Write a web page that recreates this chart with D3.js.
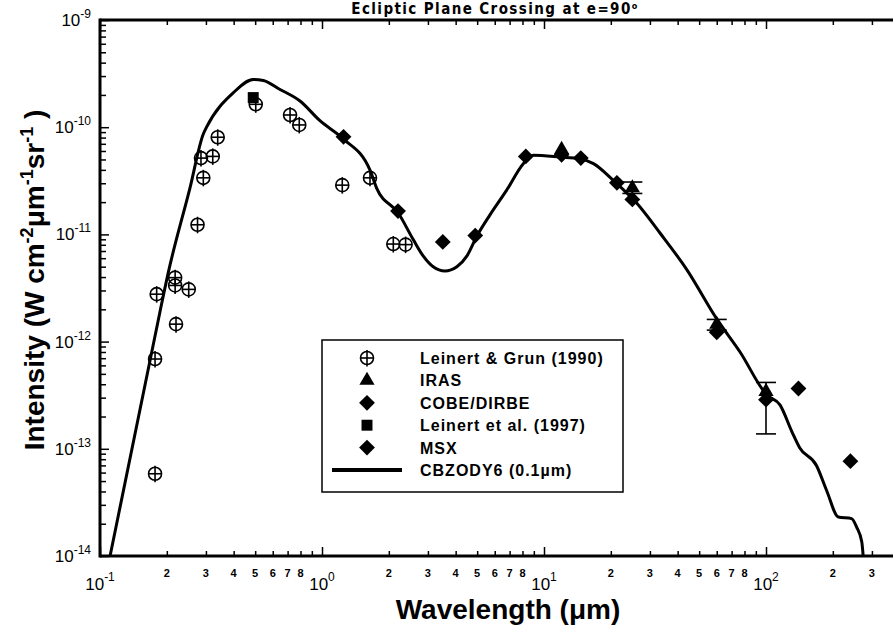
<!DOCTYPE html>
<html lang="en">
  <head>
    <meta charset="utf-8" />
    <title>Ecliptic Plane Crossing at e=90</title>
    <script src="https://cdnjs.cloudflare.com/ajax/libs/d3/7.8.5/d3.min.js"></script>
    <style type="text/css">
      body {
        margin: 0;
        background: #fff;
      }
      svg {
        display: block;
        font-family: "Liberation Sans", Arial, Helvetica, sans-serif;
      }
      .axis .domain {
        display: none;
      }
      .axis line {
        stroke: #000;
        stroke-width: 1.5;
      }
      .frame {
        stroke: #000;
        stroke-width: 3;
      }
      .model {
        fill: none;
        stroke: #000;
        stroke-width: 3;
        stroke-linejoin: round;
      }
      .title {
        font-family: "Liberation Sans Narrow", "DejaVu Sans Condensed", sans-serif;
        font-weight: bold;
        font-size: 15px;
        letter-spacing: 1.4px;
      }
      .axisTitle {
        font-weight: bold;
        font-size: 28px;
      }
      .legendText {
        font-weight: bold;
        font-size: 16px;
        letter-spacing: 1px;
      }
    </style>
  </head>

  <body>
    <div id="chart"></div>

    <script>
      // Leinert & Grun (1990)
      const leinertGrunWl = [0.177, 0.177, 0.180, 0.218, 0.218, 0.220, 0.251, 0.275, 0.285, 0.292, 0.322, 0.339, 0.503, 0.718, 0.790, 1.234, 1.645, 2.095, 2.38];
      const leinertGrunI = [5.85e-14, 6.88e-13, 2.77e-12, 3.95e-12, 3.34e-12, 1.455e-12, 3.07e-12, 1.23e-11, 5.15e-11, 3.37e-11, 5.34e-11, 8.06e-11, 1.635e-10, 1.30e-10, 1.05e-10, 2.88e-11, 3.37e-11, 8.13e-12, 8.03e-12];

      // IRAS (with error bars)
      const irasWl = [12, 25, 60, 100];
      const irasI = [6.18e-11, 2.71e-11, 1.446e-12, 3.42e-13];
      const irasLo = [null, 2.41e-11, 1.28e-12, 1.377e-13];
      const irasHi = [null, 3.08e-11, 1.61e-12, 4.16e-13];

      // COBE/DIRBE
      const dirbeWl = [1.25, 2.2, 3.5, 4.9, 12, 25, 60, 100, 140, 240];
      const dirbeI = [8.13e-11, 1.65e-11, 8.51e-12, 9.76e-12, 5.52e-11, 2.12e-11, 1.223e-12, 2.87e-13, 3.65e-13, 7.67e-14];

      // Leinert et al. (1997)
      const leinert97Wl = [0.49];
      const leinert97I = [1.89e-10];

      // MSX
      const msxWl = [8.28, 14.65, 21.3];
      const msxI = [5.34e-11, 5.15e-11, 3.03e-11];

      // CBZODY6 model (0.1um)
      const modelWl = [0.111, 0.186, 0.203, 0.254, 0.292, 0.302, 0.399, 0.490, 0.544, 0.647, 0.796, 0.979, 1.247, 1.645, 1.764, 2.21, 2.58, 2.86, 3.17, 3.58, 4.05, 4.49, 4.98, 5.71, 6.79, 8.07, 8.95, 11.8, 14.5, 16.7, 20.5, 26.2, 33.3, 43.9, 60, 76.4, 100.7, 115.6, 130.6, 142, 169, 187.5, 211.8, 243, 256, 270, 274];
      const modelI = [1.0e-14, 1.87e-12, 4.40e-12, 2.69e-11, 8.64e-11, 1.0e-10, 2.10e-10, 2.79e-10, 2.73e-10, 2.25e-10, 1.755e-10, 1.15e-10, 7.78e-11, 3.97e-11, 2.69e-11, 1.575e-11, 8.9e-12, 6.27e-12, 4.99e-12, 4.56e-12, 4.99e-12, 6.27e-12, 9.6e-12, 1.52e-11, 2.59e-11, 4.57e-11, 5.46e-11, 5.27e-11, 5.08e-11, 4.57e-11, 3.2e-11, 1.95e-11, 1.03e-11, 4.72e-12, 1.627e-12, 8.0e-13, 3.19e-13, 2.57e-13, 1.457e-13, 1.02e-13, 6.95e-14, 4.08e-14, 2.31e-14, 2.23e-14, 1.86e-14, 1.356e-14, 1.0e-14];

      const legendLabels = ["Leinert & Grun (1990)", "IRAS", "COBE/DIRBE", "Leinert et al. (1997)", "MSX", "CBZODY6 (0.1\u00b5m)"];
      const legendMarks = ["circlePlus", "triangle", "diamond", "square", "diamond", "line"];

      const width = 893;
      const height = 631;
      const marginLeft = 100;
      const marginTop = 20;
      const plotBottom = 556;
      const decadeW = 222;

      const x = d3.scaleLog()
        .domain([0.1, 400])
        .range([marginLeft, marginLeft + decadeW * Math.log10(4000)]);

      const y = d3.scaleLog()
        .domain([1e-14, 1e-9])
        .range([plotBottom, marginTop]);

      const svg = d3.select("#chart")
        .append("svg")
        .attr("width", width)
        .attr("height", height)
        .attr("viewBox", [0, 0, width, height]);

      svg.append("defs").append("clipPath")
        .attr("id", "plotClip")
        .append("rect")
        .attr("x", marginLeft)
        .attr("y", marginTop)
        .attr("width", width - marginLeft)
        .attr("height", plotBottom - marginTop);

      const isDecade = v => Math.abs(Math.log10(v) - Math.round(Math.log10(v))) < 1e-6;
      const lead = v => Math.round(v / Math.pow(10, Math.floor(Math.log10(v) + 1e-9)));

      const xTicks = x.ticks();
      const xMajor = xTicks.filter(isDecade);
      const xMinor = xTicks.filter(v => !isDecade(v));
      const yTicks = y.ticks();
      const yMajor = yTicks.filter(isDecade);
      const yMinor = yTicks.filter(v => !isDecade(v));

      // bottom axis, ticks pointing inward
      svg.append("g")
        .attr("class", "axis")
        .attr("transform", `translate(0,${plotBottom})`)
        .call(d3.axisBottom(x).tickValues(xMinor).tickSize(-5).tickSizeOuter(0).tickFormat(""));
      svg.append("g")
        .attr("class", "axis")
        .attr("transform", `translate(0,${plotBottom})`)
        .call(d3.axisBottom(x).tickValues(xMajor).tickSize(-9).tickSizeOuter(0).tickFormat(""));

      // top axis
      svg.append("g")
        .attr("class", "axis")
        .attr("transform", `translate(0,${marginTop})`)
        .call(d3.axisTop(x).tickValues(xMinor).tickSize(-5).tickSizeOuter(0).tickFormat(""));
      svg.append("g")
        .attr("class", "axis")
        .attr("transform", `translate(0,${marginTop})`)
        .call(d3.axisTop(x).tickValues(xMajor).tickSize(-9).tickSizeOuter(0).tickFormat(""));

      // left axis
      svg.append("g")
        .attr("class", "axis")
        .attr("transform", `translate(${marginLeft},0)`)
        .call(d3.axisLeft(y).tickValues(yMinor).tickSize(-6).tickSizeOuter(0).tickFormat(""));
      svg.append("g")
        .attr("class", "axis")
        .attr("transform", `translate(${marginLeft},0)`)
        .call(d3.axisLeft(y).tickValues(yMajor).tickSize(-9).tickSizeOuter(0).tickFormat(""));

      // frame lines
      svg.append("line").attr("class", "frame")
        .attr("x1", marginLeft).attr("x2", width)
        .attr("y1", plotBottom).attr("y2", plotBottom);
      svg.append("line").attr("class", "frame")
        .attr("x1", marginLeft).attr("x2", width)
        .attr("y1", marginTop).attr("y2", marginTop);
      svg.append("line").attr("class", "frame")
        .attr("x1", marginLeft).attr("x2", marginLeft)
        .attr("y1", marginTop - 1.5).attr("y2", plotBottom + 1.5);

      // x tick labels
      svg.append("g")
        .selectAll("text")
        .data(xMinor.filter(v => lead(v) <= 8 && x(v) < width - 5))
        .join("text")
        .attr("x", d => x(d))
        .attr("y", 577)
        .attr("text-anchor", "middle")
        .attr("font-size", 11)
        .attr("font-weight", "bold")
        .text(d => lead(d));

      const xMajLab = svg.append("g")
        .selectAll("text")
        .data(xMajor.filter(v => x(v) < width))
        .join("text")
        .attr("x", d => x(d))
        .attr("y", 590)
        .attr("text-anchor", "middle")
        .attr("font-size", 17);
      xMajLab.append("tspan").text("10");
      xMajLab.append("tspan")
        .attr("font-size", 12)
        .attr("dy", -9)
        .text(d => Math.round(Math.log10(d)));

      // y tick labels
      const yLab = svg.append("g")
        .selectAll("text")
        .data(yMajor)
        .join("text")
        .attr("x", 91)
        .attr("y", d => y(d) + 6)
        .attr("text-anchor", "end")
        .attr("font-size", 17);
      yLab.append("tspan").text("10");
      yLab.append("tspan")
        .attr("font-size", 12)
        .attr("dy", -8)
        .text(d => Math.round(Math.log10(d)));

      // titles
      const title = svg.append("text")
        .attr("class", "title")
        .attr("x", 495)
        .attr("y", 14)
        .attr("text-anchor", "middle");
      title.append("tspan").text("Ecliptic Plane Crossing at e=90");
      title.append("tspan").attr("font-size", 9).attr("dy", -5).text("o");

      svg.append("text")
        .attr("class", "axisTitle")
        .attr("x", 508)
        .attr("y", 619)
        .attr("text-anchor", "middle")
        .text("Wavelength (\u03bcm)");

      const yTitle = svg.append("text")
        .attr("class", "axisTitle")
        .attr("transform", "translate(44,280) rotate(-90)")
        .attr("text-anchor", "middle");
      yTitle.append("tspan").text("Intensity (W cm");
      yTitle.append("tspan").attr("font-size", 18).attr("dy", -11).text("-2");
      yTitle.append("tspan").attr("dy", 11).text("\u03bcm");
      yTitle.append("tspan").attr("font-size", 18).attr("dy", -11).text("-1");
      yTitle.append("tspan").attr("dy", 11).text("sr");
      yTitle.append("tspan").attr("font-size", 18).attr("dy", -11).text("-1");
      yTitle.append("tspan").attr("dy", 11).text(" )");

      // markers
      function marker(g, type) {
        if (type === "circlePlus") {
          g.append("circle").attr("r", 6.5).attr("fill", "none").attr("stroke", "#000").attr("stroke-width", 1.6);
          g.append("line").attr("x1", -6.5).attr("x2", 6.5).attr("stroke", "#000").attr("stroke-width", 1.6);
          g.append("line").attr("y1", -8).attr("y2", 8.5).attr("stroke", "#000").attr("stroke-width", 1.6);
        } else if (type === "triangle") {
          g.append("path").attr("d", d3.symbol(d3.symbolTriangle, 100)()).attr("fill", "#000");
        } else if (type === "diamond") {
          g.append("path").attr("d", d3.symbol(d3.symbolSquare, 125)()).attr("transform", "rotate(45)").attr("fill", "#000");
        } else if (type === "square") {
          g.append("path").attr("d", d3.symbol(d3.symbolSquare, 120)()).attr("fill", "#000");
        }
      }

      const plot = svg.append("g").attr("clip-path", "url(#plotClip)");

      // model curve
      const modelData = modelWl.map((w, i) => ({ w, v: modelI[i] }));
      const line = d3.line()
        .x(d => x(d.w))
        .y(d => y(d.v))
        .curve(d3.curveMonotoneX);
      plot.append("path")
        .attr("class", "model")
        .attr("d", line(modelData));

      function drawSeries(wl, vals, type) {
        plot.append("g")
          .selectAll("g")
          .data(wl.map((w, i) => ({ w, v: vals[i] })))
          .join("g")
          .attr("transform", d => `translate(${x(d.w)},${y(d.v)})`)
          .each(function () { marker(d3.select(this), type); });
      }

      drawSeries(dirbeWl, dirbeI, "diamond");
      drawSeries(msxWl, msxI, "diamond");
      drawSeries(leinert97Wl, leinert97I, "square");
      drawSeries(leinertGrunWl, leinertGrunI, "circlePlus");
      drawSeries(irasWl, irasI, "triangle");

      // IRAS error bars
      const errData = irasWl.map((w, i) => ({ w, lo: irasLo[i], hi: irasHi[i] })).filter(d => d.lo !== null);
      const eb = plot.append("g").attr("stroke", "#000").attr("stroke-width", 1.6);
      eb.selectAll(".ev").data(errData).join("line")
        .attr("x1", d => x(d.w)).attr("x2", d => x(d.w))
        .attr("y1", d => y(d.lo)).attr("y2", d => y(d.hi));
      eb.selectAll(".lo").data(errData).join("line")
        .attr("x1", d => x(d.w) - 10).attr("x2", d => x(d.w) + 10)
        .attr("y1", d => y(d.lo)).attr("y2", d => y(d.lo));
      eb.selectAll(".hi").data(errData).join("line")
        .attr("x1", d => x(d.w) - 10).attr("x2", d => x(d.w) + 10)
        .attr("y1", d => y(d.hi)).attr("y2", d => y(d.hi));

      // legend
      const legend = svg.append("g");
      legend.append("rect")
        .attr("x", 322).attr("y", 340)
        .attr("width", 301).attr("height", 152)
        .attr("fill", "#fff")
        .attr("stroke", "#000")
        .attr("stroke-width", 1.5);

      const rows = legend.selectAll(".row")
        .data(legendLabels)
        .join("g")
        .attr("transform", (d, i) => `translate(0,${358 + i * 22.4})`);

      rows.each(function (d, i) {
        const g = d3.select(this);
        if (legendMarks[i] === "line") {
          g.append("line")
            .attr("x1", 332).attr("x2", 402)
            .attr("stroke", "#000").attr("stroke-width", 4);
        } else {
          marker(g.append("g").attr("transform", "translate(367,0)"), legendMarks[i]);
        }
        g.append("text")
          .attr("class", "legendText")
          .attr("x", 420)
          .attr("y", 6)
          .text(d);
      });
    </script>
  </body>
</html>
